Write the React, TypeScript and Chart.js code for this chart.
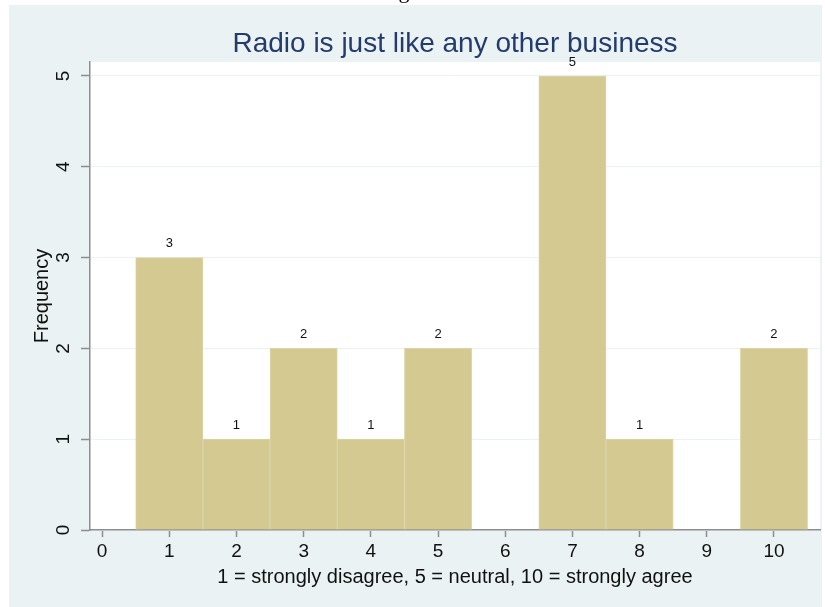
import React, { useEffect, useRef } from "react";
import { Chart, registerables } from "chart.js";
Chart.register(...registerables);

const categories = [1, 2, 3, 4, 5, 6, 7, 8, 9, 10];
const frequencies = [3, 1, 2, 1, 2, 0, 5, 1, 0, 2];
const xTickValues = [0, 1, 2, 3, 4, 5, 6, 7, 8, 9, 10];
const yTickValues = [0, 1, 2, 3, 4, 5];
const titleText = "Radio is just like any other business";
const xTitleText = "1 = strongly disagree, 5 = neutral, 10 = strongly agree";
const yTitleText = "Frequency";

const FONT = "'Liberation Sans', Arial, Helvetica, sans-serif";
const OUTER_BG = "#EAF2F3";
const AXIS_COLOR = "#8e8e8e";
const BAR_FILL = "#D4C991";
const BAR_EDGE = "#DCD3A7";
const TITLE_COLOR = "#243C6C";

const bgPlugin = {
  id: "stataBg",
  beforeDraw(chart: any) {
    const { ctx, width, height, chartArea } = chart;
    ctx.save();
    ctx.fillStyle = "#ffffff";
    ctx.fillRect(0, 0, width, height);
    // descender of a glyph from the text above the figure (cut off at the top edge)
    ctx.fillStyle = "#000";
    ctx.font = `22px 'Liberation Serif', serif`;
    ctx.textAlign = "center";
    ctx.textBaseline = "alphabetic";
    ctx.fillText("g", 404, -2);
    ctx.fillStyle = OUTER_BG;
    ctx.fillRect(9, 5, 813, height - 5);
    ctx.fillStyle = "#ffffff";
    ctx.fillRect(chartArea.left, chartArea.top, chartArea.right - chartArea.left, chartArea.bottom - chartArea.top);
    ctx.fillStyle = TITLE_COLOR;
    ctx.font = `28px ${FONT}`;
    ctx.textAlign = "center";
    ctx.textBaseline = "middle";
    ctx.fillText(titleText, (chartArea.left + chartArea.right) / 2, 44);
    ctx.restore();
  },
};

const labelPlugin = {
  id: "barLabels",
  afterDatasetsDraw(chart: any) {
    const { ctx } = chart;
    const meta = chart.getDatasetMeta(0);
    const data = chart.data.datasets[0].data as any[];
    ctx.save();
    ctx.fillStyle = "#111111";
    ctx.font = `13px ${FONT}`;
    ctx.textAlign = "center";
    ctx.textBaseline = "middle";
    meta.data.forEach((el: any, i: number) => {
      const v = data[i].y;
      if (v > 0) ctx.fillText(String(v), el.x, el.y - 14);
    });
    ctx.restore();
  },
};

export default function App() {
  const ref = useRef<HTMLCanvasElement | null>(null);
  useEffect(() => {
    if (!ref.current) return;
    const points = categories
      .map((c, i) => ({ x: c, y: frequencies[i] }))
      .filter((p) => p.y > 0);
    const chart = new Chart(ref.current, {
      type: "bar",
      data: {
        datasets: [
          {
            data: points as any,
            backgroundColor: BAR_FILL,
            borderColor: BAR_EDGE,
            borderWidth: 1,
            barPercentage: 1,
            categoryPercentage: 1,
          },
        ],
      },
      options: {
        animation: false,
        responsive: false,
        devicePixelRatio: 1,
        layout: { padding: { left: 0, right: 5, top: 62, bottom: 0 } },
        plugins: { legend: { display: false }, tooltip: { enabled: false }, title: { display: false } },
        scales: {
          x: {
            type: "linear",
            min: -0.18,
            max: 10.685,
            offset: false,
            afterBuildTicks: (s: any) => {
              s.ticks = xTickValues.map((v) => ({ value: v }));
            },
            afterFit: (s: any) => {
              s.height = 77;
            },
            grid: { display: true, drawOnChartArea: false, drawTicks: true, tickLength: 7, tickColor: AXIS_COLOR, tickWidth: 1.5, offset: false },
            border: { display: true, color: AXIS_COLOR, width: 1.5 },
            ticks: { color: "#111", font: { family: FONT, size: 19 }, padding: 3, maxRotation: 0, minRotation: 0, autoSkip: false },
            title: { display: true, text: xTitleText, color: "#111", font: { family: FONT, size: 20 }, padding: { top: 0, bottom: 18 } },
          },
          y: {
            type: "linear",
            min: 0,
            max: 5.154,
            afterBuildTicks: (s: any) => {
              s.ticks = yTickValues.map((v) => ({ value: v }));
            },
            afterFit: (s: any) => {
              s.width = 90;
            },
            grid: { display: true, drawOnChartArea: true, color: OUTER_BG, lineWidth: 1, drawTicks: true, tickLength: 9, tickColor: AXIS_COLOR, tickWidth: 1.5 },
            border: { display: true, color: AXIS_COLOR, width: 1.5 },
            ticks: { color: "#111", font: { family: FONT, size: 19 }, padding: 12, minRotation: 90, maxRotation: 90, crossAlign: "center", autoSkip: false },
            title: { display: true, text: yTitleText, color: "#111", font: { family: FONT, size: 20 }, padding: { top: 30, bottom: 0 } },
          },
        },
      },
      plugins: [bgPlugin, labelPlugin],
    });
    return () => chart.destroy();
  }, []);
  return (
    <div style={{ position: "fixed", left: 0, top: 0, width: 825, height: 607, background: "#fff" }}>
      <canvas ref={ref} width={825} height={607} style={{ display: "block", width: 825, height: 607 }} />
    </div>
  );
}
